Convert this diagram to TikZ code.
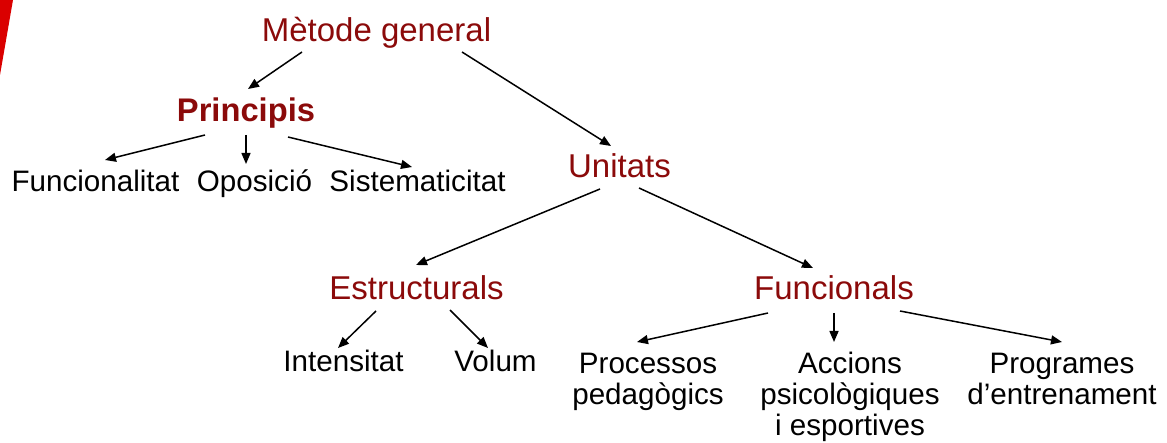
\documentclass[tikz,border=0pt]{standalone}
\usepackage{fontspec}
\setmainfont{Liberation Sans}
\usetikzlibrary{arrows.meta}
\definecolor{darkred}{RGB}{139,10,10}
\definecolor{brightred}{RGB}{218,0,0}
\begin{document}
\begin{tikzpicture}[x=1pt,y=-1pt,
  lbl/.style={inner sep=0pt,anchor=base,align=center,font=\fontsize{29.6}{31}\selectfont},
  hd/.style={inner sep=0pt,anchor=base,text=darkred,font=\fontsize{33}{36}\selectfont},
  arr/.style={draw=black,line width=1.5pt,-{Triangle[length=11pt,width=9pt]}}]
\useasboundingbox (0,0) rectangle (1167,443);
\fill[brightred] (0,0) -- (13,0) -- (0,75) -- cycle;
\node[hd] (mg) at (376.5,42) {Mètode general};
\node[hd,font=\fontsize{32.7}{36}\selectfont\bfseries] (pr) at (246,122) {Principis};
\node[lbl] (fu) at (95.5,192) {Funcionalitat};
\node[lbl] (op) at (254.5,192) {Oposició};
\node[lbl] (si) at (417.5,192) {Sistematicitat};
\node[hd] (un) at (619.5,178) {Unitats};
\node[hd] (es) at (416.5,300) {Estructurals};
\node[hd] (fn) at (834,300) {Funcionals};
\node[lbl] (in) at (343.5,372) {Intensitat};
\node[lbl] (vo) at (495.5,372) {Volum};
\node[lbl] (pp) at (648,404) {Processos\\pedagògics};
\node[lbl] (ac) at (850,435) {Accions\\psicològiques\\i esportives};
\node[lbl] (pg) at (1062,404) {Programes\\d’entrenament};
\draw[arr] ([shift={(-74.5,10)}]mg.base) -- ([shift={(2,-33)}]pr.base);
\draw[arr] ([shift={(85.5,10)}]mg.base) -- ([shift={(-8.5,-32)}]un.base);
\draw[arr] ([shift={(-41,13)}]pr.base) -- ([shift={(9.5,-32)}]fu.base);
\draw[arr] ([shift={(0,13)}]pr.base) -- ([shift={(-8.5,-28)}]op.base);
\draw[arr] ([shift={(42,15)}]pr.base) -- ([shift={(-5.5,-25)}]si.base);
\draw[arr] ([shift={(-19.5,11)}]un.base) -- ([shift={(-0.5,-35)}]es.base);
\draw[arr] ([shift={(19.5,10)}]un.base) -- ([shift={(-21,-32)}]fn.base);
\draw[arr] ([shift={(-40.5,11)}]es.base) -- ([shift={(-5.5,-24)}]in.base);
\draw[arr] ([shift={(33.5,10)}]es.base) -- ([shift={(-7.5,-24)}]vo.base);
\draw[arr] ([shift={(-66,13)}]fn.base) -- ([shift={(-11,-62)}]pp.base);
\draw[arr] ([shift={(0,13)}]fn.base) -- ([shift={(-16,-93)}]ac.base);
\draw[arr] ([shift={(66,11)}]fn.base) -- ([shift={(0,-62)}]pg.base);
\end{tikzpicture}
\end{document}
